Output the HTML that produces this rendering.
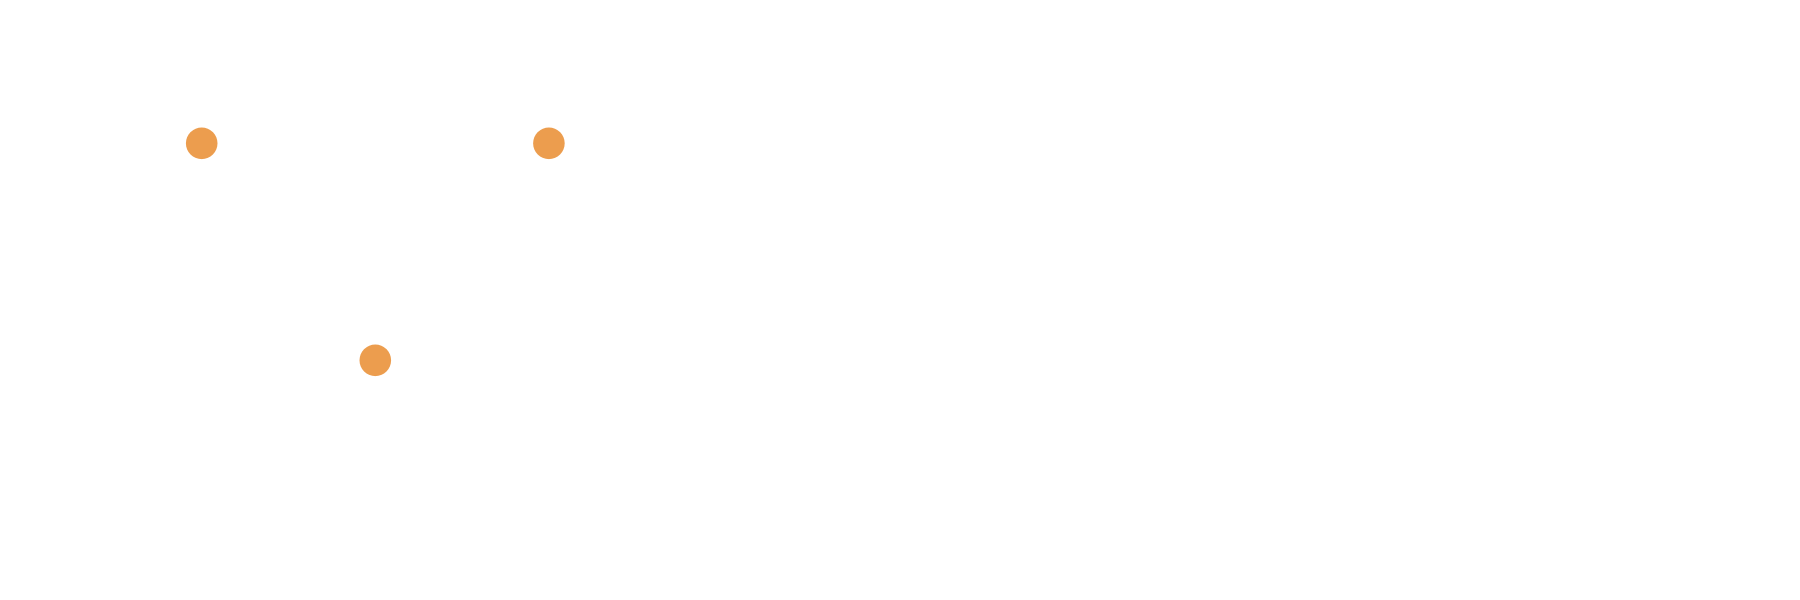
<!DOCTYPE html>
<html><head><meta charset="utf-8"><style>html,body{margin:0;padding:0;background:#fff;width:1800px;height:600px;overflow:hidden}</style></head>
<body>
<svg id="chart" width="1800" height="600" xmlns="http://www.w3.org/2000/svg"></svg>
<script>
const xValues = [0, 2, 1];
const yValues = [2, 2, 0];
const pointLabels = ["point-a", "point-b", "point-c"];
function xScale(v){ return 201.7 + v * 173.6; }
function yScale(v){ return 360.3 - v * 108.5; }
const svg = document.getElementById('chart');
for (let i = 0; i < xValues.length; i++) {
  const c = document.createElementNS('http://www.w3.org/2000/svg', 'circle');
  c.setAttribute('cx', xScale(xValues[i]));
  c.setAttribute('cy', yScale(yValues[i]));
  c.setAttribute('r', 15.8);
  c.setAttribute('fill', '#ec9d4e');
  
  
  svg.appendChild(c);
}
</script>
</body></html>
